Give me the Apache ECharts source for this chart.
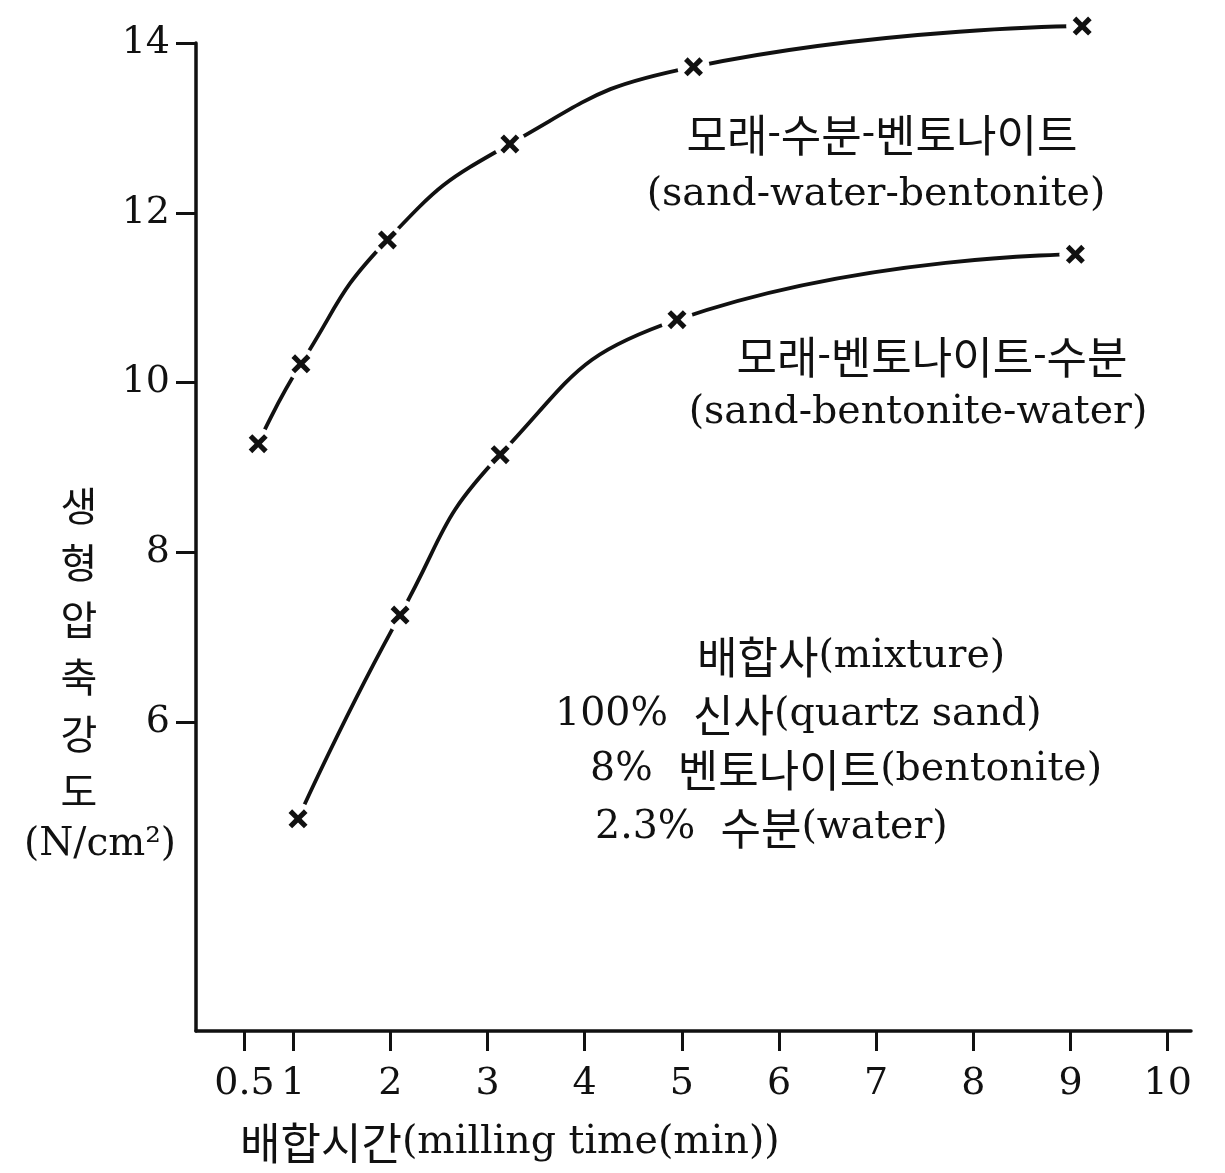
<!DOCTYPE html>
<html>
<head>
<meta charset="utf-8">
<script src="https://cdn.jsdelivr.net/npm/echarts@6/dist/echarts.min.js"></script>
<style>
  html, body { margin: 0; padding: 0; background: #fff; }
  #chart { width: 1225px; height: 1173px; }
</style>
</head>
<body>
<div id="chart"></div>
<script>
// Milling time (min) vs. green compressive strength (N/cm2)
const sandWaterBentoniteTime = [0.64, 1.08, 1.97, 3.23, 5.12, 9.12];
const sandWaterBentoniteStrength = [9.28, 10.22, 11.68, 12.81, 13.72, 14.2];
const sandBentoniteWaterTime = [1.05, 2.10, 3.13, 4.95, 9.05];
const sandBentoniteWaterStrength = [4.86, 7.26, 9.15, 10.74, 11.51];

const xTickValues = [0.5, 1, 2, 3, 4, 5, 6, 7, 8, 9, 10];
const yTickValues = [6, 8, 10, 12, 14];

const SERIF = "'DejaVu Serif', serif";
const HANGUL = "'Noto Sans CJK KR', sans-serif";
const INK = '#111';

function pairs(xs, ys) {
  return xs.map((x, i) => [x, ys[i]]);
}

const upper = pairs(sandWaterBentoniteTime, sandWaterBentoniteStrength);
const lower = pairs(sandBentoniteWaterTime, sandBentoniteWaterStrength);

// hand-drawn style cross marker
const CROSS = 'path://M0,1.9L1.9,0L5,3.1L8.1,0L10,1.9L6.9,5L10,8.1L8.1,10L5,6.9L1.9,10L0,8.1L3.1,5Z';

function curve(data) {
  return {
    type: 'line', data, smooth: 0.5,
    showSymbol: false, clip: false, z: 2,
    lineStyle: { color: INK, width: 3.8 }
  };
}
function halo(data) {
  return {
    type: 'scatter', data, symbol: 'circle', symbolSize: 32, clip: false, z: 3,
    itemStyle: { color: '#fff', opacity: 1 }, silent: true
  };
}
function marks(data) {
  return {
    type: 'scatter', data, symbol: CROSS, symbolSize: 19, clip: false, z: 4,
    itemStyle: { color: INK, opacity: 1 }
  };
}

// split mixed Korean / Latin text into rich-text runs
function richRuns(text) {
  return text.replace(/\n/g, '\u0000').match(/[\uAC00-\uD7A3]+|[^\uAC00-\uD7A3\u0000]+|\u0000/g)
    .map(p => p === '\u0000' ? '\n' : (/[\uAC00-\uD7A3]/.test(p) ? `{k|${p}}` : `{e|${p}}`))
    .join('');
}

function txt(x, y, text, align, opts) {
  const o = opts || {};
  return {
    type: 'text', x, y,
    style: {
      text: richRuns(text),
      align: align || 'left',
      verticalAlign: 'middle',
      rich: {
        k: { fontFamily: HANGUL, fontSize: o.k || 44, fill: INK, lineHeight: o.lh },
        e: { fontFamily: SERIF, fontSize: o.e || 39.5, fill: INK, lineHeight: o.lh }
      }
    }
  };
}

const chart = echarts.init(document.getElementById('chart'), null, { renderer: 'canvas' });
chart.setOption({
  backgroundColor: '#fff',
  animation: false,
  grid: { left: 196, right: 34, top: 43, bottom: 142, containLabel: false },
  xAxis: {
    type: 'value', min: 0, max: 10.24,
    axisLine: { lineStyle: { color: INK, width: 3.5 } },
    axisTick: { show: true, customValues: xTickValues, length: 20, inside: false,
                lineStyle: { color: INK, width: 3 } },
    axisLabel: { customValues: xTickValues, margin: 34, color: INK,
                 fontFamily: SERIF, fontSize: 38 },
    splitLine: { show: false }
  },
  yAxis: {
    type: 'value', min: 2.36, max: 14,
    axisLine: { show: true, lineStyle: { color: INK, width: 3.5 } },
    axisTick: { show: true, customValues: yTickValues, length: 20, inside: false,
                lineStyle: { color: INK, width: 3 } },
    axisLabel: { customValues: yTickValues, margin: 26, color: INK,
                 fontFamily: SERIF, fontSize: 38 },
    splitLine: { show: false }
  },
  series: [
    curve(upper), halo(upper), marks(upper),
    curve(lower), halo(lower), marks(lower)
  ],
  graphic: [
    txt(882, 135, '모래-수분-벤토나이트', 'center'),
    txt(876, 195, '(sand-water-bentonite)', 'center'),
    txt(932, 357, '모래-벤토나이트-수분', 'center'),
    txt(918, 413, '(sand-bentonite-water)', 'center'),
    txt(697, 657, '배합사(mixture)', 'left'),
    txt(555, 715, '100%  신사(quartz sand)', 'left'),
    txt(590, 770, '8%  벤토나이트(bentonite)', 'left'),
    txt(595, 828, '2.3%  수분(water)', 'left'),
    txt(79, 648, '생\n형\n압\n축\n강\n도', 'center', { k: 40, lh: 57 }),
    txt(100, 845, '(N/cm²)', 'center', { e: 39 }),
    txt(240, 1143, '배합시간(milling time(min))', 'left')
  ]
});
</script>
</body>
</html>
